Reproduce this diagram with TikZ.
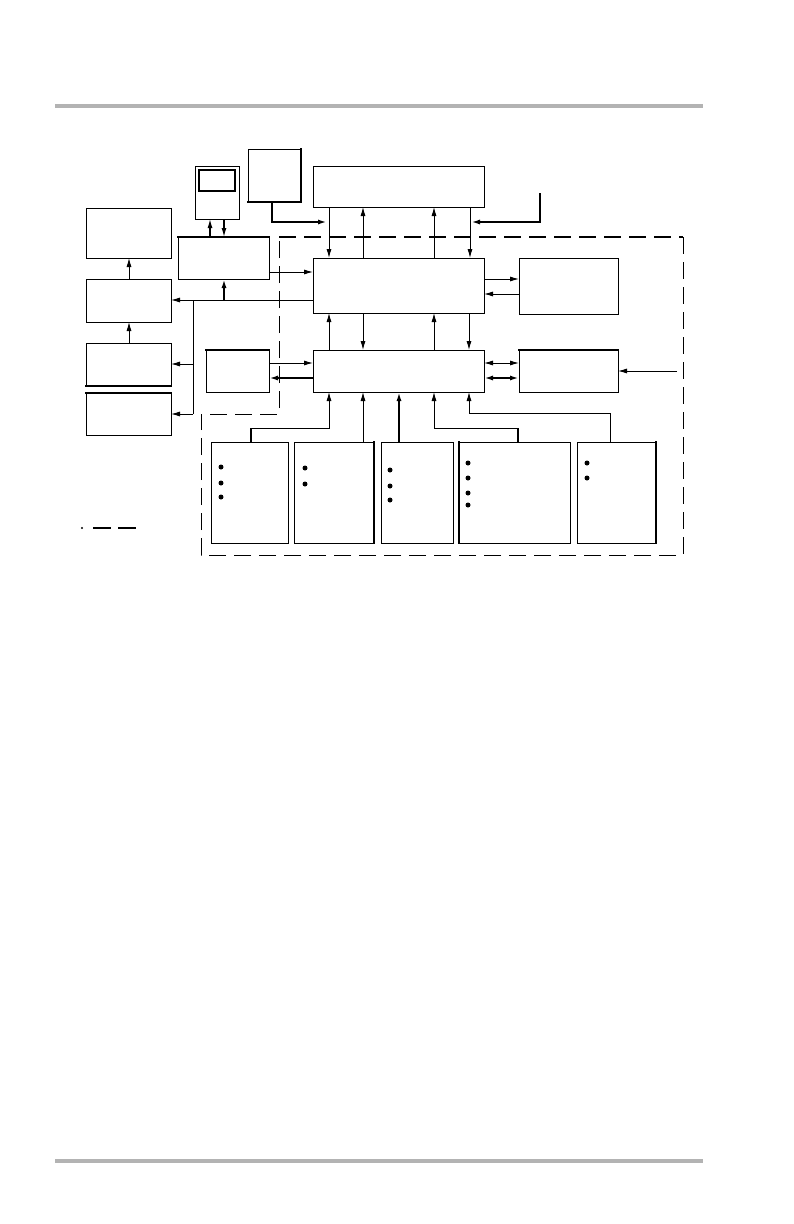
\documentclass[tikz,border=0pt]{standalone}
\usetikzlibrary{arrows.meta,calc}
\definecolor{rulegray}{HTML}{B3B3B3}
\tikzset{
  blk/.style={draw, line width=0.9pt, inner sep=0pt, outer sep=0pt, anchor=north west, fill=none},
  arr/.style={line width=0.9pt, -{Latex[length=9pt,width=5pt]}},
  arrk/.style={line width=1.8pt, -{Latex[length=9pt,width=5pt]}},
  dbl/.style={line width=0.9pt, {Latex[length=9pt,width=5pt]}-{Latex[length=9pt,width=5pt]}},
  dblk/.style={line width=1.8pt, {Latex[length=9pt,width=5pt]}-{Latex[length=9pt,width=5pt]}},
  ln/.style={line width=0.9pt},
  lnk/.style={line width=1.8pt},
  edgek/.style={line width=2pt, line cap=rect},
  zone/.style={line width=1.0pt, dash pattern=on 17pt off 8pt},
  zonetop/.style={line width=1.7pt, dash pattern=on 17pt off 8pt},
  rulebar/.style={line width=4pt, rulegray},
  dotm/.style={circle, fill=black, inner sep=0pt, minimum size=5pt}
}
\begin{document}
\begin{tikzpicture}[x=1pt,y=-1pt]
\useasboundingbox (0,0) rectangle (794,1224);
% page rules
\coordinate (rt1) at (55,106); \coordinate (rt2) at (703,106);
\coordinate (rb1) at (55,1161); \coordinate (rb2) at (703,1161);
\draw[rulebar] (rt1) -- (rt2);
\draw[rulebar] (rb1) -- (rb2);

% left column
\node[blk, minimum width=85pt, minimum height=50pt] (A) at (86,208) {};
\node[blk, minimum width=85pt, minimum height=43pt] (B) at (86,279) {};
\node[blk, minimum width=85pt, minimum height=43pt] (D) at (86,343) {};
\node[blk, minimum width=85pt, minimum height=42pt] (E) at (86,393) {};
\draw[edgek] (D.south west) -- (D.south east);
\draw[edgek] (E.north west) -- (E.north east);

% monitor and keyboard
\node[blk, minimum width=44pt, minimum height=53pt] (Mon) at (195,166) {};
\node[blk, line width=2pt, minimum width=36pt, minimum height=21pt] (Scr) at (199,170) {};
\node[blk, minimum width=53pt, minimum height=53pt] (Kbd) at (248,149) {};
\draw[edgek] (Kbd.north east) -- (Kbd.south east);
\draw[edgek] (Kbd.south west) -- (Kbd.south east);

% central blocks
\node[blk, minimum width=91pt, minimum height=42pt] (C) at (178,237) {};
\draw[edgek] (C.north west) -- (C.north east);
\node[blk, minimum width=171pt, minimum height=41pt] (Top) at (313,166) {};
\node[blk, minimum width=171pt, minimum height=55pt] (Main) at (313,258) {};
\node[blk, minimum width=99pt, minimum height=56pt] (R1) at (519,258) {};
\node[blk, minimum width=63pt, minimum height=42pt] (F) at (206,350) {};
\draw[edgek] (F.north west) -- (F.north east);
\node[blk, minimum width=171pt, minimum height=42pt] (Bus) at (313,350) {};
\node[blk, minimum width=99pt, minimum height=42pt] (G) at (519,350) {};
\draw[edgek] (G.north west) -- (G.north east);

% bottom modules
\node[blk, minimum width=77pt, minimum height=101pt] (P1) at (211,442) {};
\node[blk, minimum width=80pt, minimum height=101pt] (P2) at (294,442) {};
\node[blk, minimum width=72pt, minimum height=101pt] (P3) at (381,442) {};
\node[blk, minimum width=111pt, minimum height=101pt] (P4) at (459,442) {};
\node[blk, minimum width=79pt, minimum height=101pt] (P5) at (577,442) {};
\draw[edgek] (P2.north east) -- (P2.south east);
\draw[edgek] (P4.north west) -- (P4.south west);
\draw[edgek] (P5.north east) -- (P5.south east);

% bullets
\node[dotm] (d11) at (221,467) {}; \node[dotm] (d12) at (221,483) {}; \node[dotm] (d13) at (221,497) {};
\node[dotm] (d21) at (305,468) {}; \node[dotm] (d22) at (305,484) {};
\node[dotm] (d31) at (390,470) {}; \node[dotm] (d32) at (390,486) {}; \node[dotm] (d33) at (390,500) {};
\node[dotm] (d41) at (468,463) {}; \node[dotm] (d42) at (468,478) {}; \node[dotm] (d43) at (468,493) {}; \node[dotm] (d44) at (468,505) {};
\node[dotm] (d51) at (587,463) {}; \node[dotm] (d52) at (587,478) {};

% dashed zone
\coordinate (z1) at (279,237); \coordinate (z2) at (683,237);
\coordinate (z3) at (683,555); \coordinate (z4) at (201,555);
\coordinate (z5) at (201,414); \coordinate (z6) at (279,414);
\draw[zonetop] (z1) -- (z2);
\draw[zone] (z2) -- (z3) -- (z4) -- (z5) -- (z6) -- (z1);

% legend
\coordinate (lg0) at (82,528); \coordinate (lg1) at (93,528); \coordinate (lg2) at (111,528);
\coordinate (lg3) at (118,528); \coordinate (lg4) at (136,528);
\fill (lg0) circle (1.2pt);
\draw[line width=2pt] (lg1) -- (lg2);
\draw[line width=2pt] (lg3) -- (lg4);

% monitor <-> C
\draw[arr, line width=1.3pt] ($(C.north west)+(32,0)$) -- ($(Mon.south west)+(15,0)$);
\draw[arr, line width=1.3pt] ($(Mon.south west)+(29,0)$) -- ($(C.north west)+(46,0)$);

% keyboard -> top
\draw[arrk] ($(Kbd.south west)+(24,0)$) |- ($(Top.south west)+(14,15)$);
% external -> top
\coordinate (ext1) at (540,193);
\draw[arrk] (ext1) |- ($(Top.south west)+(158,15)$);

% top <-> main
\draw[arr] ($(Top.south west)+(16,0)$) -- ($(Main.north west)+(16,0)$);
\draw[arr] ($(Main.north west)+(50,0)$) -- ($(Top.south west)+(50,0)$);
\draw[arr] ($(Main.north west)+(121,0)$) -- ($(Top.south west)+(121,0)$);
\draw[arr] ($(Top.south west)+(157,0)$) -- ($(Main.north west)+(157,0)$);

% C -> main
\draw[arr] ($(C.north east)+(0,35)$) -- ($(Main.north west)+(0,14)$);

% main -> left column
\draw[arr] ($(Main.north west)+(0,42)$) -- ($(B.north east)+(0,21)$);
\draw[arrk] ($(Main.north west)+(-89,42)$) -- (C.south -| {$(C.north west)+(46,0)$});
\coordinate (bj) at ($(Main.north west)+(-120,42)$);
\draw[ln] (bj) -- ($(E.north east)+(22,21)$);
\draw[arr] ($(D.north east)+(22,21)$) -- ($(D.north east)+(0,21)$);
\draw[arr] ($(E.north east)+(22,21)$) -- ($(E.north east)+(0,21)$);

% left column vertical
\draw[arr] ($(B.north west)+(43,0)$) -- ($(A.south west)+(43,0)$);
\draw[arr] ($(D.north west)+(43,0)$) -- ($(B.south west)+(43,0)$);

% main <-> R1
\draw[arr] ($(Main.north east)+(0,21)$) -- ($(R1.north west)+(0,21)$);
\draw[arr] ($(R1.north west)+(0,36)$) -- ($(Main.north east)+(0,36)$);

% main <-> bus
\draw[arr] ($(Bus.north west)+(16,0)$) -- ($(Main.south west)+(16,0)$);
\draw[arr] ($(Main.south west)+(50,0)$) -- ($(Bus.north west)+(50,0)$);
\draw[arr] ($(Bus.north west)+(121,0)$) -- ($(Main.south west)+(121,0)$);
\draw[arr] ($(Main.south west)+(156,0)$) -- ($(Bus.north west)+(156,0)$);

% F <-> bus
\draw[arr] ($(F.north east)+(0,13)$) -- ($(Bus.north west)+(0,13)$);
\draw[arrk] ($(Bus.north west)+(0,28)$) -- ($(F.north east)+(0,28)$);

% bus <-> G
\draw[dbl] ($(Bus.north east)+(0,13)$) -- ($(G.north west)+(0,13)$);
\draw[dblk] ($(Bus.north east)+(0,28)$) -- ($(G.north west)+(0,28)$);
\coordinate (ext2) at (677,371);
\draw[arr] (ext2) -- ($(G.north east)+(0,21)$);

% modules -> bus
\draw[lnk] ($(P1.north west)+(40,0)$) -- ($(P1.north west)+(40,-14)$);
\draw[arr] ($(P1.north west)+(40,-14)$) -| ($(Bus.south west)+(16,0)$);
\draw[arr] ($(P2.north west)+(69,0)$) -- ($(Bus.south west)+(50,0)$);
\draw[arrk] ($(P3.north west)+(18,0)$) -- ($(Bus.south west)+(86,0)$);
\draw[lnk] ($(P4.north west)+(59,0)$) -- ($(P4.north west)+(59,-14)$);
\draw[arr] ($(P4.north west)+(59,-14)$) -| ($(Bus.south west)+(121,0)$);
\draw[arr] ($(P5.north west)+(33,0)$) |- ($(P5.north west)+(-108,-29)$) -- ($(Bus.south west)+(156,0)$);
\end{tikzpicture}
\end{document}
